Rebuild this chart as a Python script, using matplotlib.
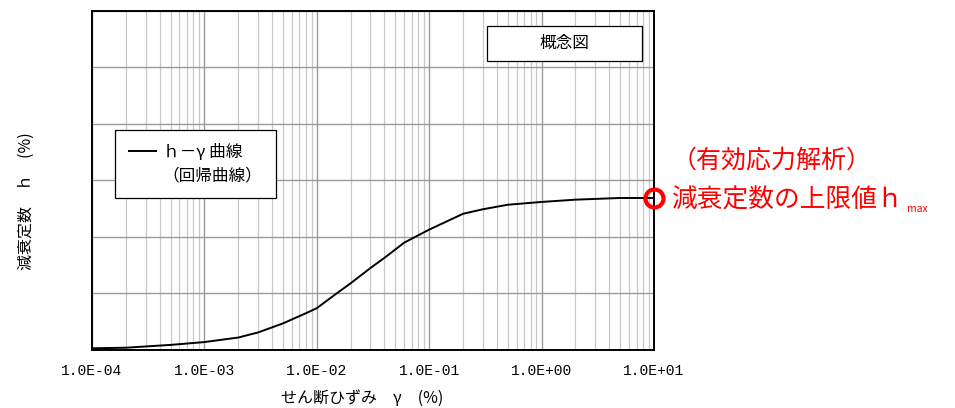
import matplotlib.pyplot as plt
from matplotlib.patches import Rectangle
from matplotlib.ticker import LogLocator, FixedLocator

JP = ['Noto Sans CJK JP', 'DejaVu Sans']

# h-gamma curve (y in grid divisions)
gamma = [1e-4, 2e-4, 5e-4, 1e-3, 2e-3, 2.5e-3, 3e-3, 5e-3, 8e-3, 1e-2,
         1.5e-2, 2e-2, 3e-2, 4e-2, 6e-2, 1e-1, 2e-1, 3e-1, 5e-1,
         1.0, 2.0, 5.0, 10.0]
h = [0.03, 0.04, 0.09, 0.14, 0.22, 0.27, 0.31, 0.47, 0.65, 0.74,
     1.00, 1.18, 1.45, 1.63, 1.90, 2.13, 2.41, 2.49, 2.57,
     2.62, 2.66, 2.69, 2.69]
xtick_vals = [1e-4, 1e-3, 1e-2, 1e-1, 1e0, 1e1]
xtick_labels = ['1.0E-04', '1.0E-03', '1.0E-02', '1.0E-01', '1.0E+00', '1.0E+01']

fig = plt.figure(figsize=(9.55, 4.08), dpi=100)
ax = fig.add_axes([0.0963, 0.1422, 0.5885, 0.831])

ax.set_xscale('log')
ax.set_xlim(1e-4, 1e1)
ax.set_ylim(0, 6)
ax.yaxis.set_major_locator(FixedLocator(range(7)))
ax.set_yticklabels([])
ax.xaxis.set_major_locator(FixedLocator(xtick_vals))
ax.xaxis.set_minor_locator(LogLocator(base=10, subs=range(2, 10)))
ax.set_xticklabels(xtick_labels, family='Liberation Mono', fontsize=10.5)
ax.tick_params(which='both', length=0, pad=10)
ax.tick_params(axis='x', which='minor', labelbottom=False)

ax.grid(which='major', color='#9a9a9a', lw=1.0)
ax.grid(which='minor', axis='x', color='#c8c8c8', lw=0.9)
for s in ax.spines.values():
    s.set_linewidth(1.4)

line, = ax.plot(gamma, h, color='black', lw=1.4, zorder=3)
ax.plot([gamma[-1]], [h[-1]], 'o', mfc='none', mec='#ff0000', ms=13, mew=3,
        clip_on=False, zorder=4)

blank, = ax.plot([], [], color='none')
leg = ax.legend([line, blank], ['ｈ－γ 曲線', '（回帰曲線）'], loc='upper left',
                bbox_to_anchor=(0.041, 0.649), borderaxespad=0,
                prop={'family': JP, 'size': 12},
                fancybox=False, framealpha=1, edgecolor='black',
                handlelength=1.6, handletextpad=0.4, borderpad=0.85,
                labelspacing=0.35)
leg.get_frame().set_linewidth(0.9)

ax.add_patch(Rectangle((0.703, 0.853), 0.276, 0.103, transform=ax.transAxes,
                       facecolor='white', edgecolor='black', lw=0.9, zorder=5))
ax.text(0.8415, 0.904, '概念図', transform=ax.transAxes, ha='center',
        va='center', family=JP, fontsize=12, zorder=6)

ax.set_ylabel('減衰定数　ｈ　(%)', family=JP, fontsize=11.5)
ax.yaxis.set_label_coords(-0.101, 0.44)
ax.set_xlabel('せん断ひずみ　γ　(%)', family=JP, fontsize=11.5)
ax.xaxis.set_label_coords(0.48, -0.142)
ax.xaxis.label.set_va('center')

fig.text(0.703, 0.607, '（有効応力解析）', color='#ff0000', family=JP,
         fontsize=18, va='center')
t = fig.text(0.703, 0.508, '減衰定数の上限値ｈ', color='#ff0000', family=JP,
             fontsize=18.5, va='center')
ax.annotate('max', xy=(1, 0), xycoords=t, xytext=(3, 0),
            textcoords='offset points', color='#ff0000', family=JP,
            fontsize=7.5, va='bottom', annotation_clip=False)

fig.savefig('out.png', dpi=100)
